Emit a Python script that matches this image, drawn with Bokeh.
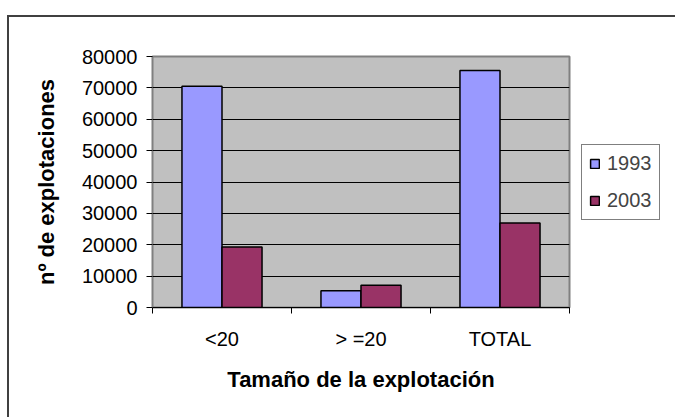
from bokeh.plotting import figure
from bokeh.models import Range1d, FixedTicker, NumeralTickFormatter, Legend, LegendItem
from bokeh.embed import file_html
from bokeh.resources import INLINE

# ---- data ----
categories = ["<20", "> =20", "TOTAL"]
years = ["1993", "2003"]
values_1993 = [70500, 5300, 75500]
values_2003 = [19300, 7100, 26900]
y_ticks = [0, 10000, 20000, 30000, 40000, 50000, 60000, 70000, 80000]
colors = ["#9999FF", "#993366"]

FONT = "Liberation Sans"

centers = [i + 0.5 for i in range(len(categories))]
bounds = [i for i in range(len(categories) + 1)]
bar_w = 0.288
x1993 = [c - bar_w / 2 for c in centers]
x2003 = [c + bar_w / 2 for c in centers]

p = figure(frame_width=417, frame_height=251, output_backend="svg", toolbar_location=None,
           x_range=Range1d(0, len(categories)), y_range=Range1d(0, y_ticks[-1]),
           min_border_left=152, min_border_right=100, min_border_top=56, min_border_bottom=110)
# outer chart-area border (only its left and top edges are visible in the reference)
p.styles = {
    "background-image": "linear-gradient(#404040, #404040), linear-gradient(#404040, #404040)",
    "background-size": "2px 100%, 100% 2px",
    "background-position": "7px 15px, 7px 15px",
    "background-repeat": "no-repeat",
    "background-color": "white",
}

p.background_fill_color = "#C0C0C0"
p.border_fill_alpha = 0
p.outline_line_color = "#808080"
p.outline_line_width = 2

r1 = p.vbar(x=x1993, top=values_1993, width=bar_w, fill_color=colors[0], line_color="black", line_width=1.5)
r2 = p.vbar(x=x2003, top=values_2003, width=bar_w, fill_color=colors[1], line_color="black", line_width=1.5)

p.xgrid.grid_line_color = None
p.ygrid.ticker = FixedTicker(ticks=y_ticks)
p.ygrid.grid_line_color = "black"
p.ygrid.grid_line_width = 1

yax = p.yaxis[0]
yax.ticker = FixedTicker(ticks=y_ticks)
yax.formatter = NumeralTickFormatter(format="0")
yax.major_tick_out = 6
yax.major_tick_in = 0
yax.minor_tick_line_color = None
yax.axis_line_color = "#808080"
yax.major_tick_line_color = "black"
yax.major_label_standoff = 9
yax.major_label_text_font = FONT
yax.major_label_text_font_size = "20px"
yax.major_label_text_color = "black"
yax.axis_label = "nº de explotaciones"
yax.axis_label_text_font = FONT
yax.axis_label_text_font_style = "bold"
yax.axis_label_text_font_size = "22px"
yax.axis_label_text_color = "black"
yax.axis_label_standoff = 20

xax = p.xaxis[0]
xax.ticker = FixedTicker(ticks=centers, minor_ticks=bounds)
xax.major_label_overrides = {c: cat for c, cat in zip(centers, categories)}
xax.major_tick_out = 0
xax.major_tick_in = 0
xax.minor_tick_out = 6
xax.minor_tick_in = 0
xax.minor_tick_line_color = "black"
xax.axis_line_color = "black"
xax.major_label_standoff = 14
xax.major_label_text_font = FONT
xax.major_label_text_font_size = "20px"
xax.major_label_text_color = "black"
xax.axis_label = "Tamaño de la explotación"
xax.axis_label_text_font = FONT
xax.axis_label_text_font_style = "bold"
xax.axis_label_text_font_size = "22px"
xax.axis_label_text_color = "black"
xax.axis_label_standoff = 14

legend = Legend(items=[LegendItem(label=years[0], renderers=[r1]),
                       LegendItem(label=years[1], renderers=[r2])],
                location="center_left", margin=12, padding=7, spacing=14,
                glyph_width=11, glyph_height=11, label_standoff=7,
                label_text_font=FONT, label_text_font_size="20px",
                border_line_color="black", border_line_width=1,
                background_fill_color="white", background_fill_alpha=1)
p.add_layout(legend, "right")

open("out.html", "w").write(file_html(p, INLINE))
